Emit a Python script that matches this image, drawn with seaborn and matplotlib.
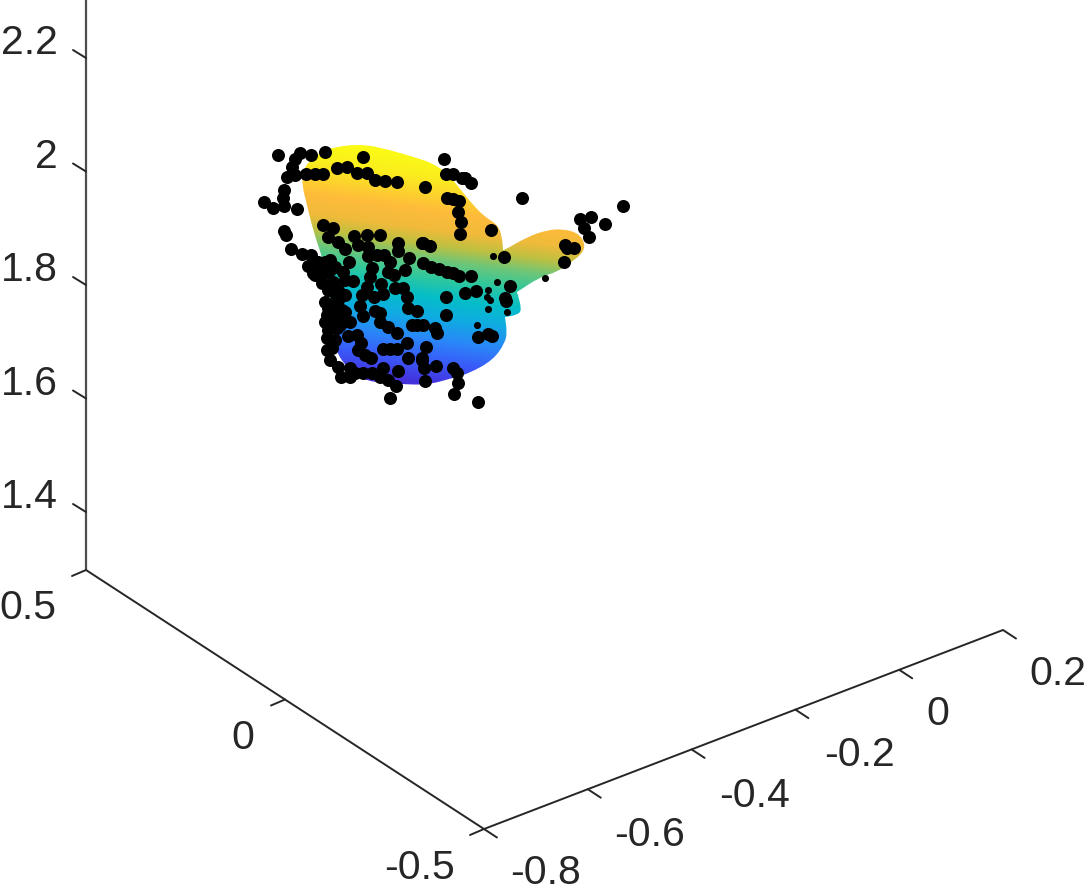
import numpy as np
import seaborn as sns
import matplotlib.pyplot as plt
from matplotlib.patches import PathPatch
from matplotlib.path import Path

# tick values of the three axes
x_ticks = [-0.8, -0.6, -0.4, -0.2, 0, 0.2]
y_ticks = [-0.5, 0, 0.5]
z_ticks = [1.4, 1.6, 1.8, 2.0, 2.2]
x_labels = ['-0.8', '-0.6', '-0.4', '-0.2', '0', '0.2']
y_labels = ['-0.5', '0', '0.5']
z_labels = ['1.4', '1.6', '1.8', '2', '2.2']

# black points (screen position)
dots_u = [278, 300, 295, 292, 311, 325, 363, 287, 295, 306, 315, 323, 337, 347, 357, 367, 375, 385,
          397, 425, 284, 283, 264, 273, 284, 297, 284, 286, 291, 302, 311, 308, 315,
          323, 333, 328, 338, 345, 354, 367, 380, 358, 368, 368, 377, 384, 390, 398, 398, 409,
          423, 431, 422, 430, 439, 447, 453, 459, 405, 388, 394, 372, 370,
          330, 349, 335, 343, 313, 317, 325, 322, 333, 345, 353, 328, 345, 362, 367, 381, 395, 403,
          374, 383, 407, 408, 417, 446, 446, 360, 363, 375, 380, 380, 388, 397, 350, 342,
          338, 325, 327, 333, 328, 337, 327, 335, 348, 357, 361, 358, 365, 371,
          412, 417, 423, 435, 437, 407, 383, 390, 397, 408, 426, 422, 424, 436, 425, 398, 383,
          453, 457, 458, 454, 478, 390, 396, 388, 380, 372, 363, 355, 350, 341, 350, 338, 330,
          444, 446, 453, 462, 465, 471, 522, 447, 453, 459, 458, 461, 460, 491, 504,
          580, 591, 584, 589, 605, 623, 565, 567, 574, 564,
          471, 510, 465, 476, 505, 506, 478, 488, 492, 423, 422, 338, 345,
          318, 325, 322, 330, 336, 333, 341, 335, 325, 327, 332, 328, 340, 338]
dots_v = [155, 153, 159, 167, 155, 152, 157, 177, 175, 174, 174, 174, 168, 167, 173, 173, 180, 181,
          182, 187, 190, 198, 202, 208, 206, 209, 231, 235, 249, 254, 255, 266, 275,
          225, 228, 237, 242, 249, 236, 235, 235, 245, 247, 256, 255, 255, 262, 243, 251, 258,
          263, 267, 243, 246, 269, 272, 273, 276, 270, 272, 275, 268, 277,
          260, 262, 267, 272, 273, 273, 273, 283, 282, 280, 281, 290, 295, 295, 287, 284, 288, 288,
          297, 294, 297, 308, 311, 297, 315, 306, 316, 311, 313, 322, 327, 333, 322, 310,
          300, 302, 315, 317, 330, 328, 338, 340, 336, 335, 343, 350, 355, 358,
          325, 325, 325, 328, 333, 343, 349, 349, 349, 358, 347, 358, 368, 366, 381, 371, 368,
          368, 373, 383, 394, 402, 398, 386, 380, 377, 373, 373, 373, 377, 377, 368, 367, 360,
          159, 174, 174, 178, 178, 183, 198, 198, 199, 201, 212, 222, 234, 230, 257,
          219, 217, 228, 237, 224, 206, 245, 248, 248, 262,
          276, 286, 293, 291, 298, 301, 337, 334, 336, 243, 360, 312, 312,
          262, 262, 270, 270, 295, 305, 318, 322, 322, 350, 348, 308, 325, 290]

# dots that are mostly hidden by the surface, only a sliver shows
sliver_u = [497, 488, 487, 488, 507, 477, 545, 490, 493]
sliver_v = [282, 290, 297, 309, 312, 325, 278, 300, 256]

# outline of the surface
edge_u = [333, 363, 390, 417, 432, 447, 457, 473, 485, 498, 502, 503, 503, 527, 547, 563, 578, 585, 583, 570, 557,
          540, 517, 517, 522, 517, 505, 505, 507, 505, 493, 470, 453, 427, 400, 377, 357, 343, 335,
          331, 329, 323, 313, 307, 302, 303, 308, 320]
edge_v = [147, 144, 150, 158, 163, 173, 185, 205, 217, 225, 237, 249, 251, 237, 230, 229, 233, 243, 253, 263, 272,
          277, 292, 292, 310, 315, 317, 317, 332, 343, 360, 373, 378, 385, 384, 383, 377, 363, 348,
          305, 285, 260, 230, 205, 185, 172, 162, 153]

# colour along the surface height
grad_t = [150, 172, 205, 225, 240, 255, 272, 292, 312, 335, 357, 378, 395]
grad_r = [250, 250, 255, 240, 190, 110, 50, 5, 15, 42, 58, 68, 70]
grad_g = [252, 238, 188, 186, 192, 198, 200, 190, 172, 135, 90, 52, 40]
grad_b = [20, 30, 58, 58, 65, 120, 155, 200, 225, 248, 250, 222, 200]

# where the axes sit on the canvas
CORNER = (484, 829)
X_STEP = (519, -199)
Y_STEP = (-398, -259)
Z_SCALE = 567.5
Z_FLOOR = 1.2978
Z_TOP = 2.302
INK = '#262626'


def project(x, y, z=Z_FLOOR):
    u = CORNER[0] + (x + 0.8) * X_STEP[0] + (y + 0.5) * Y_STEP[0]
    v = CORNER[1] + (x + 0.8) * X_STEP[1] + (y + 0.5) * Y_STEP[1] - (z - Z_FLOOR) * Z_SCALE
    return u, v


def smooth_outline(us, vs):
    # quadratic spline through the midpoints of the outline
    pts = np.column_stack([us, vs]).astype(float)
    mids = (pts + np.roll(pts, -1, axis=0)) / 2
    verts = [mids[-1]]
    codes = [Path.MOVETO]
    for p, m in zip(pts, mids):
        verts += [p, m]
        codes += [Path.CURVE3, Path.CURVE3]
    return Path(verts, codes)


sns.set_theme(style='white')
plt.rcParams['font.family'] = ['Liberation Sans', 'DejaVu Sans']

fig = plt.figure(figsize=(10.86, 8.9), dpi=100)
ax = fig.add_axes([0, 0, 1, 1])
ax.set_xlim(0, 1086)
ax.set_ylim(890, 0)
ax.axis('off')

# surface
uu, vv = np.meshgrid(np.arange(295, 595), np.arange(140, 395))
tt = vv - 0.13 * (uu - 400)
rgb = np.dstack([np.interp(tt, grad_t, c) for c in (grad_r, grad_g, grad_b)]) / 255
img = ax.imshow(rgb, extent=(295, 595, 395, 140), interpolation='bilinear', aspect='auto', zorder=1)
outline = PathPatch(smooth_outline(edge_u, edge_v), transform=ax.transData, fc='none', ec='none')
ax.add_patch(outline)
img.set_clip_path(outline)
ax.set_xlim(0, 1086)
ax.set_ylim(890, 0)

# points
sns.scatterplot(x=dots_u, y=dots_v, color='black', s=88, linewidth=0, ax=ax, zorder=3)
sns.scatterplot(x=sliver_u, y=sliver_v, color='black', s=26, linewidth=0, ax=ax, zorder=3)

# axis lines
for a, b in [(project(-0.8, 0.5), project(-0.8, -0.5)), (project(-0.8, -0.5), project(0.2, -0.5))]:
    ax.plot([a[0], b[0]], [a[1], b[1]], color=INK, lw=1.4, solid_capstyle='butt', zorder=2)
top = project(-0.8, 0.5, Z_TOP)
base = project(-0.8, 0.5)
ax.plot([top[0], base[0]], [top[1], base[1]], color='#4d4d4d', lw=1.6, solid_capstyle='butt', zorder=2)

# ticks and labels
font = dict(fontsize=29.5, color=INK, va='center')
x_label_pos = [(545, 873), (649, 835), (755, 796), (859, 755), (938, 714), (1058, 674)]
for val, lab, pos in zip(x_ticks, x_labels, x_label_pos):
    u, v = project(val, -0.5)
    ax.plot([u, u + 13], [v, v + 8.5], color=INK, lw=1.4, zorder=2)
    ax.text(pos[0], pos[1], lab, ha='center', **font)

y_label_pos = [(419, 868), (243, 738), (28, 608)]
for val, lab, pos in zip(y_ticks, y_labels, y_label_pos):
    u, v = project(-0.8, val)
    ax.plot([u, u - 14], [v, v + 6], color=INK, lw=1.4, zorder=2)
    ax.text(pos[0], pos[1], lab, ha='center', **font)

for val, lab in zip(z_ticks, z_labels):
    u, v = project(-0.8, 0.5, val)
    ax.plot([u, u - 13], [v, v - 8], color=INK, lw=1.4, zorder=2)
    ax.text(58, v - 15, lab, ha='right', **font)

fig.savefig('out.png', dpi=100)
